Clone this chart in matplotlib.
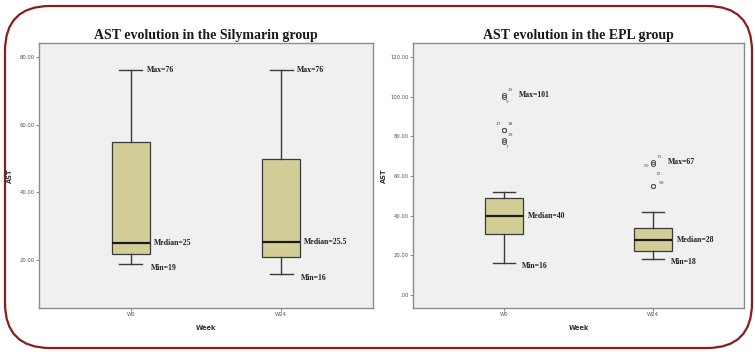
import matplotlib
matplotlib.use("Agg")
import matplotlib.pyplot as plt
from matplotlib.patches import FancyBboxPatch

# AST summary statistics per week (min, Q1, median, Q3, max whisker)
weeks = ["W0", "W24"]

sily_min = [19, 16]
sily_q1 = [22, 21]
sily_med = [25, 25.5]
sily_q3 = [55, 50]
sily_max = [76, 76]

epl_min = [16, 18]
epl_q1 = [31, 22]
epl_med = [40, 28]
epl_q3 = [49, 34]
epl_whishi = [52, 42]
epl_max = [101, 67]

# outliers (value, case number) for the EPL group
epl_out_w0 = [101, 100, 83, 83, 78, 77]
epl_out_w0_ids = ["25", "9", "17", "38", "29", "7"]
epl_out_w24 = [67, 66, 55, 55]
epl_out_w24_ids = ["71", "50", "72", "59"]

W, H = 755, 352
fig = plt.figure(figsize=(W / 100, H / 100), dpi=100)
fig.patch.set_facecolor("white")

BOX = "#D3CE97"
EDGE = "#3a3a3a"
SERIF = ["Liberation Serif", "DejaVu Serif"]


def px_axes(x0, y0, x1, y1):
    return fig.add_axes([x0 / W, 1 - y1 / H, (x1 - x0) / W, (y1 - y0) / H])


def draw_panel(ax, stats, ylim, yticks, ylabels, title):
    ax.set_facecolor("#F0F0F0")
    ax.bxp(stats, positions=[1, 2], widths=0.25, capwidths=0.15,
           patch_artist=True, showfliers=True,
           boxprops=dict(facecolor=BOX, edgecolor=EDGE, linewidth=0.9),
           medianprops=dict(color="#1a1a1a", linewidth=1.6),
           whiskerprops=dict(color=EDGE, linewidth=1.0),
           capprops=dict(color=EDGE, linewidth=1.0),
           flierprops=dict(marker="o", markersize=3, markerfacecolor="none",
                           markeredgecolor="#555555", markeredgewidth=0.7))
    ax.set_xlim(0.39, 2.61)
    ax.set_ylim(*ylim)
    ax.set_xticks([1, 2])
    ax.set_xticklabels(weeks, fontsize=3.8, color="#555555")
    ax.set_yticks(yticks)
    ax.set_yticklabels(ylabels, fontsize=3.8, color="#555555")
    ax.tick_params(length=2, width=0.6, color="#777777", pad=1)
    for s in ax.spines.values():
        s.set_color("#8c8c8c")
        s.set_linewidth(1.0)
    ax.set_xlabel("Week", fontsize=4.8, fontweight="bold", color="#333333")
    ax.xaxis.set_label_coords(0.5, -0.065)
    ax.set_ylabel("AST", fontsize=4.8, fontweight="bold", color="#333333")
    ax.yaxis.set_label_coords(-0.078, 0.5)
    ax.set_title(title, fontsize=10, fontweight="bold", family=SERIF,
                 color="#1a1a1a", pad=3)


def label(ax, x, y, text, dx, dy=0):
    ax.annotate(text, xy=(x, y), xytext=(dx, dy), textcoords="offset pixels",
                fontsize=5.6, fontweight="bold", family=SERIF, color="#222222",
                va="center", ha="left")


def fmt(v):
    return f"{v:g}"


# Silymarin group
ax1 = px_axes(39, 43, 373, 308)
sily_stats = []
for i in range(2):
    sily_stats.append(dict(whislo=sily_min[i], q1=sily_q1[i], med=sily_med[i],
                           q3=sily_q3[i], whishi=sily_max[i], fliers=[]))
draw_panel(ax1, sily_stats, (6, 84), [20, 40, 60, 80],
           ["20.00", "40.00", "60.00", "80.00"],
           "AST evolution in the Silymarin group")
for i, p in enumerate([1, 2]):
    label(ax1, p, sily_max[i], "Max=" + fmt(sily_max[i]), 16)
    label(ax1, p, sily_med[i], "Median=" + fmt(sily_med[i]), 23)
    label(ax1, p, sily_min[i], "Min=" + fmt(sily_min[i]), 20, -4)

# EPL group
ax2 = px_axes(413, 43, 744, 308)
epl_out = [epl_out_w0, epl_out_w24]
epl_ids = [epl_out_w0_ids, epl_out_w24_ids]
epl_stats = []
for i in range(2):
    epl_stats.append(dict(whislo=epl_min[i], q1=epl_q1[i], med=epl_med[i],
                          q3=epl_q3[i], whishi=epl_whishi[i], fliers=epl_out[i]))
draw_panel(ax2, epl_stats, (-6.5, 127), [0, 20, 40, 60, 80, 100, 120],
           [".00", "20.00", "40.00", "60.00", "80.00", "100.00", "120.00"],
           "AST evolution in the EPL group")

# case-number offsets (pixels) around each outlier circle
id_offsets = [[(4, 5), (2, -5), (-8, 6), (4, 6), (4, 5), (2, -5)],
              [(4, 5), (-9, -2), (3, 12), (6, 3)]]
for i, p in enumerate([1, 2]):
    for v, cid, (dx, dy) in zip(epl_out[i], epl_ids[i], id_offsets[i]):
        ax2.annotate(cid, xy=(p, v), xytext=(dx, dy), textcoords="offset pixels",
                     fontsize=3.2, color="#555555", ha="left", va="center")
    label(ax2, p, epl_max[i], "Max=" + fmt(epl_max[i]), 15)
    label(ax2, p, epl_med[i], "Median=" + fmt(epl_med[i]), 24)
    label(ax2, p, epl_min[i], "Min=" + fmt(epl_min[i]), 18, -3)

# rounded frame around both panels
frame = fig.add_axes([0, 0, 1, 1], zorder=-1)
frame.set_xlim(0, W)
frame.set_ylim(0, H)
frame.axis("off")
frame.add_patch(FancyBboxPatch((5, 4), 747, 342,
                               boxstyle="round,pad=0,rounding_size=45",
                               facecolor="white", edgecolor="#8B1C1C",
                               linewidth=1.6))

fig.savefig("out.png", dpi=100)
